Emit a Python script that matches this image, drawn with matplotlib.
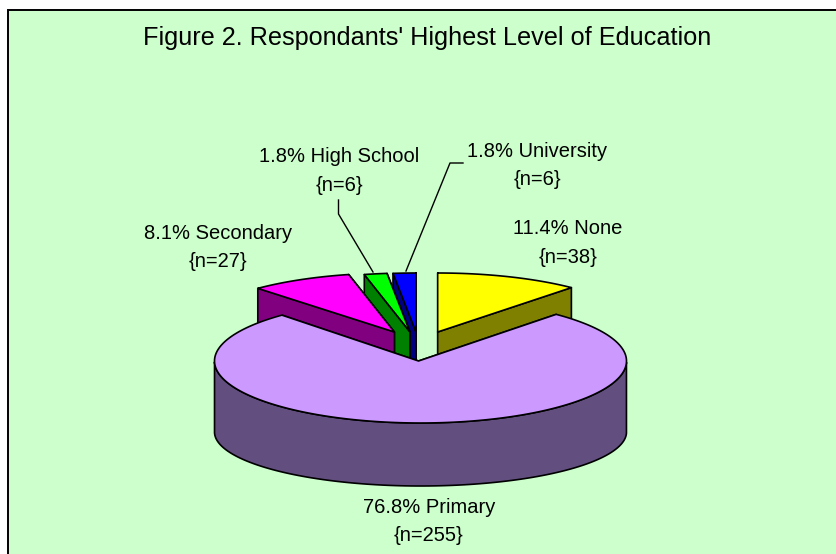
import numpy as np
import matplotlib
matplotlib.use('Agg')
import matplotlib.pyplot as plt
from matplotlib.patches import Polygon, Rectangle

plt.rcParams['font.family'] = ['Liberation Sans', 'DejaVu Sans']

# clockwise from 12 o'clock
categories = ['None', 'Primary', 'Secondary', 'High School', 'University']
counts = [38, 255, 27, 6, 6]
percents = [11.4, 76.8, 8.1, 1.8, 1.8]
top_colors = ['#FFFF00', '#CC99FF', '#FF00FF', '#00FF00', '#0000FF']
side_colors = ['#808000', '#624F7F', '#800080', '#008000', '#000080']

W, H = 837, 554
cx, cy = 419, 361
rx, ry = 203, 59
rx_big, ry_big = 206, 62
depth, ry_low = 71, 54
ex, lift = 53, 29

fig = plt.figure(figsize=(W / 100, H / 100), dpi=100)
ax = fig.add_axes([0, 0, 1, 1])
ax.set_xlim(0, W)
ax.set_ylim(H, 0)
ax.axis('off')
ax.add_patch(Rectangle((8, 10), W + 20, H + 20, fc='#CCFFCC', ec='black', lw=1.4))


def draw_slice(i, start, end):
    mid = np.radians((start + end) / 2)
    a = np.radians(np.linspace(start, end, 200))
    if categories[i] == 'Primary':
        # the big slice stays put, the others are pulled out from it
        ax0, ay0 = cx - 0.5, cy
        ox, oy = cx + 1.5, cy
        xs = ox + rx_big * np.sin(a)
        ys = oy - ry_big * np.cos(a)
        low = -ry_low * np.cos(a) + oy + depth
    else:
        ax0 = cx + ex * np.sin(mid)
        ay0 = cy - lift
        xs = ax0 + rx * np.sin(a)
        ys = ay0 - ry * np.cos(a)
        low = ys + depth
    style = dict(ec='black', lw=1.2, joinstyle='round')
    # cut faces, the one nearer to us goes last
    for j in sorted((0, -1), key=lambda k: ys[k]):
        ax.add_patch(Polygon([(ax0, ay0), (xs[j], ys[j]), (xs[j], ys[j] + depth), (ax0, ay0 + depth)],
                             fc=side_colors[i], **style))
    # outer wall, only the part facing us
    front = (np.degrees(a) >= 90) & (np.degrees(a) <= 270)
    if front.any():
        pts = list(zip(xs[front], ys[front])) + list(zip(xs[front][::-1], low[front][::-1]))
        ax.add_patch(Polygon(pts, fc=side_colors[i], **style))
    ax.add_patch(Polygon([(ax0, ay0)] + list(zip(xs, ys)), fc=top_colors[i], **style))


edges = np.cumsum([0] + counts) / sum(counts) * 360
for i in [4, 3, 2, 0, 1]:
    draw_slice(i, edges[i], edges[i + 1])

# leader lines
ax.plot([338.5, 338.5, 373], [200, 214, 272], color='black', lw=1)
ax.plot([463, 450, 406], [163, 163, 271], color='black', lw=1)

ax.text(427, 37.5, "Figure 2. Respondants' Highest Level of Education", ha='center', va='center', fontsize=18.2)

label_pos = {'None': (568, 243), 'Primary': (429, 521.5), 'Secondary': (218, 247.5),
             'High School': (339, 171), 'University': (537, 165.5)}
for i, name in enumerate(categories):
    x, y = label_pos[name]
    ax.text(x, y, '%.1f%% %s\n{n=%d}' % (percents[i], name, counts[i]), ha='center', va='center',
            fontsize=14.5, linespacing=1.65)

fig.savefig('out.png', dpi=100)
